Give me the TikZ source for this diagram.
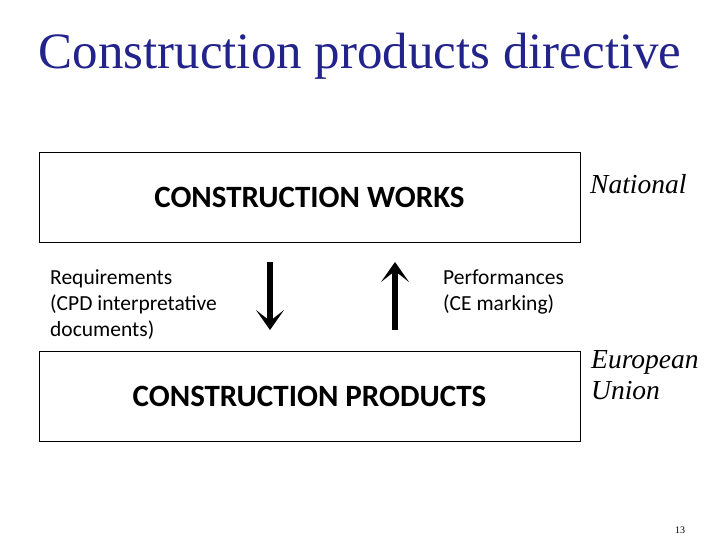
\documentclass[tikz,border=0pt]{standalone}
\usepackage{fontspec}
\setmainfont{Liberation Serif}
\newfontfamily\carlitofont{Carlito}
\usetikzlibrary{arrows.meta}
\definecolor{navy}{RGB}{35,35,140}
\begin{document}
\begin{tikzpicture}[x=1pt,y=-1pt,
  boxst/.style={draw,line width=0.8pt,minimum width=541pt,minimum height=90pt,inner sep=0pt,font=\carlitofont\bfseries\fontsize{31}{34}\selectfont},
  lbl/.style={font=\carlitofont\fontsize{21.5}{26}\selectfont,align=left,anchor=north west,inner sep=0pt},
  side/.style={font=\itshape\fontsize{27.5}{31}\selectfont,align=left,anchor=north west,inner sep=0pt},
  arr/.style={line width=5.5pt,-{Stealth[length=20pt,width=28pt,inset=11pt]}}]
\useasboundingbox (0,0) rectangle (720,540);
\node[font=\fontsize{51}{55}\selectfont,text=navy] (title) at (360,56) {Construction products directive};
\node[boxst] (works) at (309.5,197) {CONSTRUCTION WORKS};
\node[boxst] (prod) at (309.5,396) {CONSTRUCTION PRODUCTS};
\node[side] (nat) at (590,174) {National};
\node[side] (eu) at (591,350) {European\\Union};
\node[lbl] (req) at (50,270) {Requirements\\(CPD interpretative\\documents)};
\node[lbl] (perf) at (443,270) {Performances\\(CE marking)};
\coordinate (d1) at (270,262); \coordinate (d2) at (270,330);
\coordinate (u1) at (395,330); \coordinate (u2) at (395,262);
\draw[arr] (d1) -- (d2);
\draw[arr] (u1) -- (u2);
\node[font=\fontsize{10}{12}\selectfont] (pg) at (680,530) {13};
\end{tikzpicture}
\end{document}
